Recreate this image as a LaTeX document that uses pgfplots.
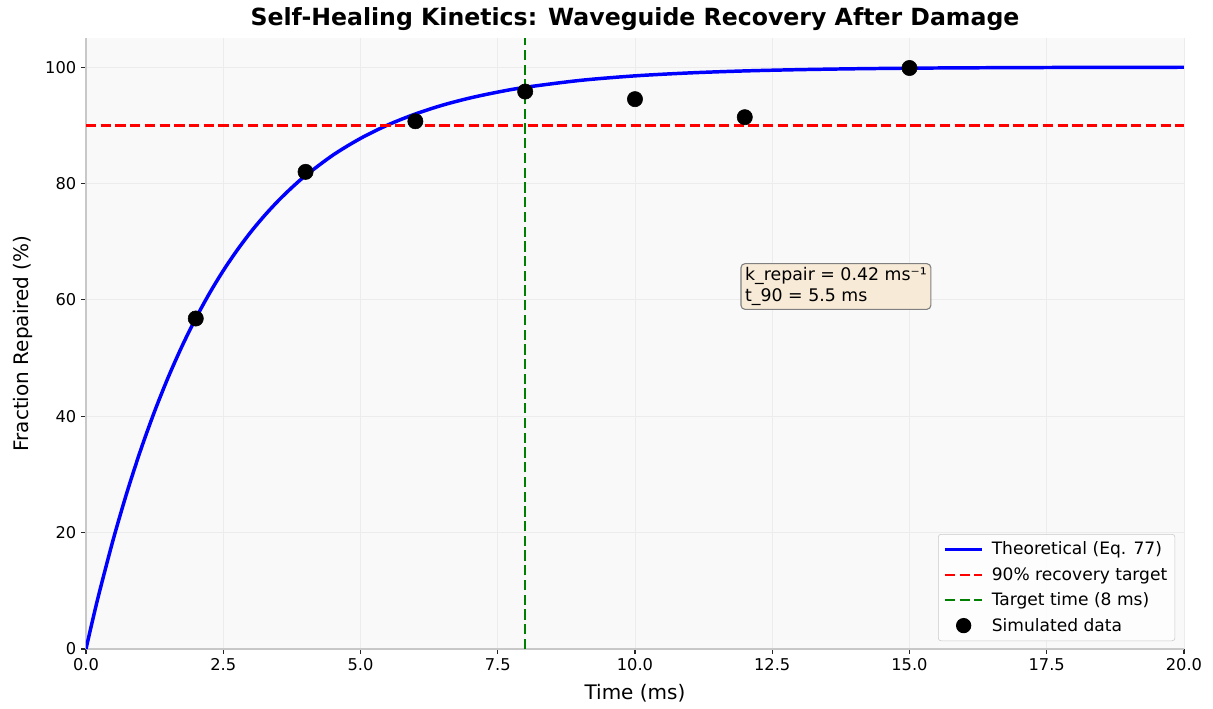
\documentclass[border=0pt]{standalone}
\usepackage{fontspec}
\setmainfont{DejaVu Sans}
\usepackage{pgfplots}
\pgfplotsset{compat=1.18}
\definecolor{bg}{RGB}{249,249,249}
\definecolor{gridc}{RGB}{236,236,236}
\definecolor{spine}{RGB}{200,200,200}
\definecolor{mgreen}{RGB}{0,128,0}
\definecolor{wheatbox}{RGB}{247,234,214}
\pgfplotsset{
  longline/.style={legend image code/.code={\draw[##1] (0pt,0pt) -- (27pt,0pt);}},
  dotleg/.style={legend image code/.code={\path[draw=none,fill=none] (0pt,0pt) -- (27pt,0pt); \fill[black, draw=none, fill opacity=1] (13.5pt,0pt) circle (5.5pt);}},
}
\begin{document}
\begin{tikzpicture}
\begin{axis}[
  name=ax,
  width=790.6pt, height=439.9pt, scale only axis,
  xmin=0, xmax=20, ymin=0, ymax=105,
  xtick={0,2.5,...,20}, ytick={0,20,...,100},
  axis lines*=left,
  axis line style={-, spine, line width=1pt},
  tick align=outside,
  major tick length=3.5pt,
  tick style={black!85, line width=0.8pt},
  grid=major,
  grid style={gridc, line width=0.6pt},
  axis background/.style={fill=bg},
  /pgf/number format/assume math mode=true,
  xticklabel style={/pgf/number format/.cd, fixed, fixed zerofill, precision=1},
  yticklabel style={/pgf/number format/.cd, fixed, precision=0},
  ticklabel style={font=\fontsize{11.7}{13}\selectfont},
  every axis title shift=0pt,
  title={Self-Healing Kinetics: Waveguide Recovery After Damage},
  title style={font=\fontsize{17}{20}\selectfont\bfseries, at={(axis description cs:0.5,1)}, anchor=center, yshift=13.7pt},
  xlabel={Time (ms)},
  xlabel style={font=\fontsize{14.4}{17}\selectfont, at={(axis description cs:0.5,0)}, anchor=center, yshift=-31.7pt},
  ylabel={Fraction Repaired (\%)},
  ylabel style={font=\fontsize{14.4}{17}\selectfont, at={(axis description cs:0,0.5)}, anchor=center, yshift=45pt},
  legend style={at={(axis description cs:0.992,0.013)}, anchor=south east,
    fill=white, fill opacity=0.8, text opacity=1, draw=spine, rounded corners=2pt,
    font=\fontsize{12.3}{14}\selectfont, row sep=3.5pt, inner sep=3.5pt,
    /tikz/every odd column/.append style={column sep=3.5pt}},
  legend cell align=left,
]
\addplot[blue, line width=2.5pt, smooth, longline] coordinates {
(0,0) (0.125,5.11) (0.25,9.97) (0.5,18.94) (0.75,27.02) (1,34.30) (1.25,40.84) (1.5,46.74)
(1.75,52.05) (2,56.83) (2.25,61.13) (2.5,65.01) (2.75,68.49) (3,71.64) (3.25,74.46)
(3.5,77.01) (3.75,79.30) (4,81.36) (4.5,84.89) (5,87.75) (5.5,90.07) (6,91.95)
(6.5,93.48) (7,94.71) (7.5,95.71) (8,96.53) (9,97.72) (10,98.50) (11,99.01)
(12,99.35) (13,99.57) (14,99.72) (15,99.82) (16,99.88) (17,99.92) (18,99.95) (20,99.98)
};
\addlegendentry{Theoretical (Eq. 77)}
\addplot[red, line width=1.8pt, dash pattern=on 7.4pt off 3.2pt, longline] coordinates {(0,90) (20,90)};
\addlegendentry{90\% recovery target}
\addplot[mgreen, line width=1.8pt, dash pattern=on 7.4pt off 3.2pt, longline] coordinates {(8,0) (8,105)};
\addlegendentry{Target time (8 ms)}
\addplot[only marks, mark=*, mark size=5.5pt, black, dotleg] coordinates {
(2,56.8) (4,82.0) (6,90.7) (8,95.8) (10,94.5) (12,91.4) (15,99.85)
};
\addlegendentry{Simulated data}
\node[draw=gray, fill=wheatbox, rounded corners=3pt, anchor=west, align=left,
  font=\fontsize{12.5}{14.5}\selectfont, inner sep=3pt, line width=0.8pt]
  at (axis cs:11.92,62.3) {k\_repair = 0.42 ms⁻¹\\t\_90 = 5.5 ms};
\end{axis}
\path ([xshift=-61.9pt,yshift=-43.2pt]ax.south west) rectangle ([xshift=20.9pt,yshift=27.4pt]ax.north east);
\end{tikzpicture}
\end{document}
